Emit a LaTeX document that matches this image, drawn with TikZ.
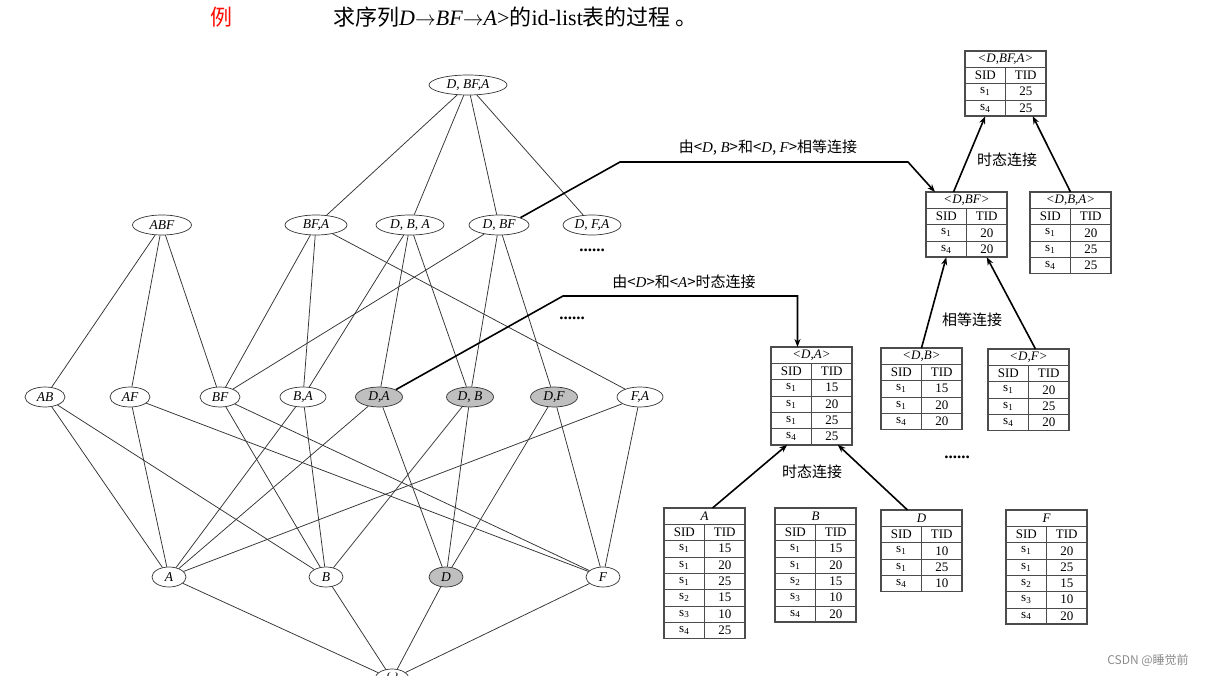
\documentclass[tikz,border=0pt]{standalone}
\usepackage{fontspec}
\setmainfont{Liberation Serif}
\newfontfamily\cjk{Noto Sans CJK SC}
\usetikzlibrary{shapes.geometric,arrows.meta,positioning}

\newcommand{\lt}[1]{{\normalfont\itshape #1}}

\tikzset{
  itemset/.style={ellipse,draw=black!80,line width=0.7pt,fill=white,inner sep=0pt,minimum height=20pt,font=\fontsize{13.5}{13.5}\selectfont\itshape},
  hitset/.style={itemset,fill=black!25},
  lattice/.style={draw=black!80,line width=0.75pt},
  joinarrow/.style={line width=1.6pt,-{Stealth[length=8pt,width=6pt]}},
  cell/.style={draw=black!70,line width=0.6pt,outer sep=0pt,minimum width=40.5pt,minimum height=16.3pt,inner sep=0pt,font=\fontsize{13}{13}\selectfont},
  hdr/.style={cell,minimum width=81pt,font=\fontsize{13}{13}\selectfont\itshape},
  tblframe/.style={draw=black!70,line width=1.6pt},
  lbl/.style={font=\fontsize{15}{15}\selectfont\cjk},
  dots/.style={font=\fontsize{17}{17}\selectfont\bfseries}
}

% one id-list table: name, x, y (top left), header, rows
\newcommand{\idlist}[5]{%
  \node[hdr,anchor=north west] (#1-h) at (#2,#3) {#4};
  \node[cell,anchor=north west] (#1-a0) at (#1-h.south west) {SID};
  \node[cell,anchor=north west] (#1-b0) at (#1-a0.north east) {TID};
  \foreach \s/\t [count=\i, remember=\i as \j (initially 0)] in {#5} {
    \node[cell,anchor=north west] (#1-a\i) at (#1-a\j.south west) {s\textsubscript{\s}};
    \node[cell,anchor=north west] (#1-b\i) at (#1-a\i.north east) {\t};
    \xdef\lastrow{\i}
  }
  \draw[tblframe] (#1-h.north west) rectangle (#1-b\lastrow.south east);
}

\begin{document}
\begin{tikzpicture}[x=1pt,y=-1pt]
\useasboundingbox[fill=white] (0,0) rectangle (1213,676);

\node[font=\fontsize{22}{22}\selectfont\cjk,text=red!90!orange] (ex) at (221,17) {例};
\node[anchor=west,font=\fontsize{22}{22}\selectfont,inner sep=0pt] (title) at (333,17)
  {{\cjk 求序列}\textit{D}$\rightarrow$\textit{BF}$\rightarrow$\textit{A}>{\cjk 的}id-list{\cjk 表的过程 。}};

% lattice
\node[itemset,minimum width=78pt] (nDBFA) at (468,85) {D, BF,A};
\node[itemset,minimum width=59pt] (nABF) at (162,225) {ABF};
\node[itemset,minimum width=62pt] (nBFA) at (316,225) {BF,A};
\node[itemset,minimum width=68pt] (nDBA) at (410,225) {D, B, A};
\node[itemset,minimum width=60pt] (nDBF) at (499,225) {D, BF};
\node[itemset,minimum width=58pt] (nDFA) at (592,225) {D, F,A};
\node[itemset,minimum width=40pt] (nAB) at (45,397) {AB};
\node[itemset,minimum width=40pt] (nAF) at (130,397) {AF};
\node[itemset,minimum width=40pt] (nBF) at (220,397) {BF};
\node[itemset,minimum width=46pt] (nBA) at (303,397) {B,A};
\node[hitset,minimum width=47pt] (nDA) at (379,397) {D,A};
\node[hitset,minimum width=47pt] (nDB) at (470,397) {D, B};
\node[hitset,minimum width=47pt] (nDF) at (554,397) {D,F};
\node[itemset,minimum width=46pt] (nFA) at (640,397) {F,A};
\node[itemset,minimum width=34pt] (nA) at (169,577) {A};
\node[itemset,minimum width=34pt] (nB) at (326,577) {B};
\node[hitset,minimum width=34pt] (nD) at (446,577) {D};
\node[itemset,minimum width=34pt] (nF) at (603,577) {F};
\node[itemset,minimum width=34pt] (nE) at (392,679) {\{\,\}};

\node[dots] (d1) at (592,250) {......};
\node[dots] (d2) at (572,318) {......};
\node[dots] (d3) at (957,457) {......};

\foreach \a/\b in {nDBFA/nBFA,nDBFA/nDBA,nDBFA/nDBF,nDBFA/nDFA,
  nABF/nAB,nABF/nAF,nABF/nBF,nBFA/nBF,nBFA/nBA,nBFA/nFA,
  nDBA/nBA,nDBA/nDA,nDBA/nDB,nDBF/nBF,nDBF/nDB,nDBF/nDF,
  nAB/nA,nAB/nB,nAF/nA,nAF/nF,nBF/nB,nBF/nF,nBA/nA,nBA/nB,
  nDA/nA,nDA/nD,nDB/nB,nDB/nD,nDF/nD,nDF/nF,nFA/nA,nFA/nF,
  nA/nE,nB/nE,nD/nE,nF/nE}
  \draw[lattice] (\a) -- (\b);

% id-lists
\idlist{tDBFA}{965}{51}{<D,BF,A>}{1/25,4/25}
\idlist{tDBF}{926}{192}{<D,BF>}{1/20,4/20}
\idlist{tDBA}{1030}{192}{<D,B,A>}{1/20,1/25,4/25}
\idlist{tDA}{771}{347}{<D,A>}{1/15,1/20,1/25,4/25}
\idlist{tDB}{881}{348}{<D,B>}{1/15,1/20,4/20}
\idlist{tDF}{988}{349}{<D,F>}{1/20,1/25,4/20}
\idlist{tA}{664}{508}{A}{1/15,1/20,1/25,2/15,3/10,4/25}
\idlist{tB}{775}{508}{B}{1/15,1/20,2/15,3/10,4/20}
\idlist{tD}{881}{510}{D}{1/10,1/25,4/10}
\idlist{tF}{1006}{510}{F}{1/20,1/25,2/15,3/10,4/20}

% joins
\coordinate (k1) at (620,162);
\coordinate (k2) at (908,162);
\coordinate (k3) at (563,296);
\draw[joinarrow] (nDBF.north east) -- (k1) -- (k2) -- ([xshift=9pt]tDBF-h.north west);
\draw[joinarrow] (nDA.north east) -- (k3) -| ([xshift=-14pt]tDA-h.north);
\draw[joinarrow] ([xshift=-13pt]tDBF-h.north) -- (tDBFA-a2.south);
\draw[joinarrow] (tDBA-h.north) -- ([xshift=7pt]tDBFA-b2.south);
\draw[joinarrow] (tDB-h.north) -- (tDBF-a2.south);
\draw[joinarrow] ([xshift=7pt]tDF-h.north) -- (tDBF-b2.south);
\draw[joinarrow] ([xshift=8pt]tA-h.north) -- ([xshift=-4pt]tDA-a4.south);
\draw[joinarrow] ([xshift=-14pt]tD-h.north) -- ([xshift=6pt]tDA-b4.south);

\node[lbl] (j1) at (768,148) {由<\lt{D}, \lt{B}>和<\lt{D}, \lt{F}>相等连接};
\node[lbl] (j2) at (684,282) {由<\lt{D}>和<\lt{A}>时态连接};
\node[lbl] (j3) at (1007,160) {时态连接};
\node[lbl] (j4) at (972,320) {相等连接};
\node[lbl] (j5) at (812,472) {时态连接};

\node[font=\fontsize{12}{12}\selectfont\cjk,text=black!45] (wm) at (1148,660) {CSDN @睡觉前};
\end{tikzpicture}
\end{document}
